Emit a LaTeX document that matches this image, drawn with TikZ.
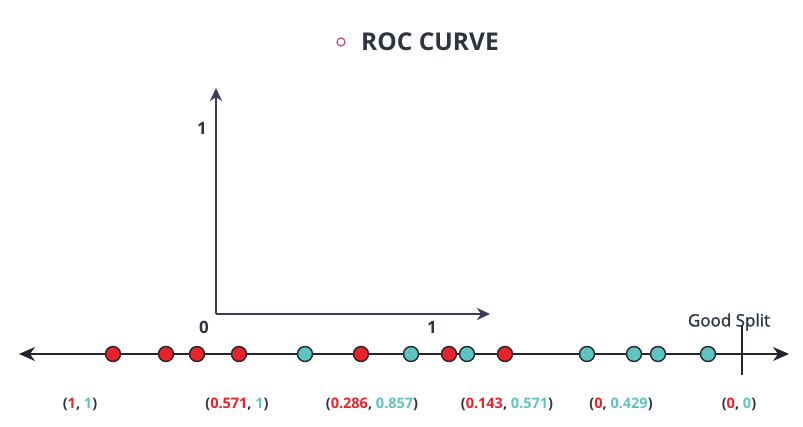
\documentclass[tikz,border=0pt]{standalone}
\usepackage{fontspec}
\setmainfont{Open Sans}
\newfontfamily\semifont[FakeBold=1.4]{Open Sans}
\usetikzlibrary{arrows.meta, positioning}
\definecolor{rocred}{HTML}{E8232A}
\definecolor{rocteal}{HTML}{5EC4BF}
\definecolor{axisnavy}{HTML}{3B3B58}
\definecolor{linedark}{HTML}{25252F}
\definecolor{titlegray}{HTML}{2E3540}
\definecolor{bulletpink}{HTML}{C4456E}
\tikzset{
    ptdot/.style={circle, draw=linedark, line width=1.4pt, minimum size=15pt, inner sep=0pt},
    negdot/.style={ptdot, fill=rocred},
    posdot/.style={ptdot, fill=rocteal},
    axisarrow/.style={-{Stealth[length=13pt, width=12pt, inset=4pt]}, line width=2.2pt, draw=axisnavy},
    numline/.style={{Stealth[length=16pt, width=14pt, inset=5pt]}-{Stealth[length=16pt, width=14pt, inset=5pt]}, line width=1.6pt, draw=linedark},
    axislabel/.style={font=\fontsize{17}{20}\selectfont\bfseries, text=titlegray, inner sep=0pt},
    pair/.style={font=\fontsize{14.5}{17}\selectfont\bfseries, text=titlegray, inner sep=0pt},
}
\begin{document}
\begin{tikzpicture}[x=1pt, y=-1pt]
    \useasboundingbox (0,0) rectangle (803,426);
    % title
    \node[circle, draw=bulletpink, line width=1.2pt, minimum size=8pt, inner sep=0pt] (bullet) at (341,42) {};
    \node[anchor=west, font=\fontsize{24.5}{28}\selectfont\bfseries, text=titlegray, inner sep=0pt] (title) at (361,42) {ROC CURVE};
    % roc axes
    \coordinate (origin) at (216,314);
    \coordinate (ytip) at (216,88);
    \coordinate (xtip) at (490,314);
    \draw[axisarrow] (origin) -- (ytip);
    \draw[axisarrow] (origin) -- (xtip);
    \node[axislabel] (yone) at (202,128) {1};
    \node[axislabel] (zero) at (204,327) {0};
    \node[axislabel] (xone) at (432,327) {1};
    % number line
    \coordinate (lineL) at (19,354);
    \coordinate (lineR) at (789,354);
    \draw[numline] (lineL) -- (lineR);
    \coordinate (splitT) at (742,325);
    \coordinate (splitB) at (742,375);
    \draw[line width=1.6pt, linedark] (splitT) -- (splitB);
    \node[font=\fontsize{17}{20}\semifont, text=titlegray, inner sep=0pt] (good) at (729,322) {Good Split};
    \foreach \x/\c [count=\i] in {113/negdot, 166/negdot, 197/negdot, 239/negdot, 305/posdot, 361/negdot, 411/posdot, 449/negdot, 467/posdot, 505/negdot, 587/posdot, 634/posdot, 658/posdot, 708/posdot}
        \node[\c] (p\i) at (\x,354) {};
    % (fpr, tpr) pairs
    \node[pair] (pr1) at (80,404) {(\textcolor{rocred}{1}, \textcolor{rocteal}{1})};
    \node[pair] (pr2) at (237,404) {(\textcolor{rocred}{0.571}, \textcolor{rocteal}{1})};
    \node[pair] (pr3) at (372,404) {(\textcolor{rocred}{0.286}, \textcolor{rocteal}{0.857})};
    \node[pair] (pr4) at (507,404) {(\textcolor{rocred}{0.143}, \textcolor{rocteal}{0.571})};
    \node[pair] (pr5) at (621,404) {(\textcolor{rocred}{0}, \textcolor{rocteal}{0.429})};
    \node[pair] (pr6) at (739,404) {(\textcolor{rocred}{0}, \textcolor{rocteal}{0})};
\end{tikzpicture}
\end{document}
